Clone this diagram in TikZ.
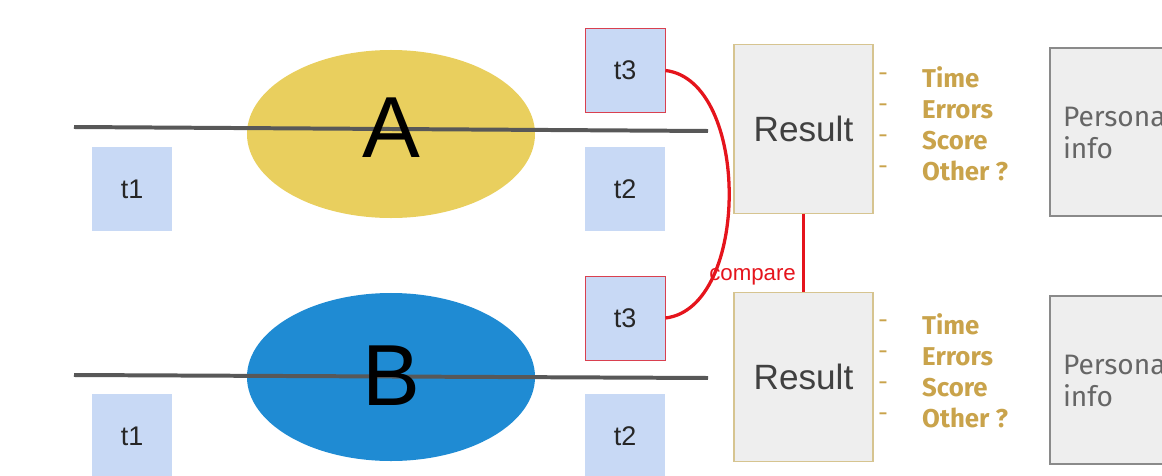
\documentclass[tikz,border=0pt]{standalone}
\usepackage{fontspec}
\setmainfont{Liberation Sans}
\newfontfamily\listfont{Fira Sans}
\usetikzlibrary{shapes.geometric}
\definecolor{tblue}{HTML}{C8D9F5}
\definecolor{ayellow}{HTML}{E9CF5E}
\definecolor{bblue}{HTML}{1F8BD3}
\definecolor{resfill}{HTML}{EEEEEE}
\definecolor{resborder}{HTML}{D6C490}
\definecolor{perborder}{HTML}{8A8A8A}
\definecolor{gold}{HTML}{C9A34B}
\definecolor{cred}{HTML}{E5141C}
\definecolor{tred}{HTML}{D9404F}
\definecolor{lgray}{HTML}{585858}
\begin{document}
\begin{tikzpicture}[x=0.03cm,y=-0.03cm,
  tbox/.style={rectangle, fill=tblue, inner sep=0pt, minimum width=2.4cm, minimum height=2.52cm,
    font=\fontsize{23pt}{26pt}\selectfont, text=black!85},
  tthree/.style={tbox, draw=tred, line width=0.8pt},
  resbox/.style={rectangle, fill=resfill, draw=resborder, line width=1pt, inner sep=0pt,
    minimum width=4.17cm, minimum height=5.05cm, font=\fontsize{30pt}{34pt}\selectfont, text=black!75},
  perbox/.style={rectangle, fill=resfill, draw=perborder, line width=1pt, inner xsep=0.39cm,
    minimum width=4.2cm, minimum height=5.04cm, text width=3.42cm, align=left,
    font=\listfont\fontsize{24pt}{27pt}\selectfont, text=black!60},
  blob/.style={ellipse, inner sep=0pt, minimum width=8.64cm, minimum height=5.04cm},
  bigletter/.style={font=\fontsize{74pt}{74pt}\selectfont, text=black, inner sep=0pt},
  track/.style={draw=lgray, line width=3.4pt},
  list/.style={align=left, anchor=west, inner sep=0pt, text=gold,
    font=\listfont\bfseries\fontsize{22pt}{26.35pt}\selectfont},
  dashes/.style={align=left, anchor=west, inner sep=0pt, text=gold,
    font=\listfont\fontsize{21pt}{26.35pt}\selectfont},
  redline/.style={draw=cred, line width=2.8pt},
  lbl/.style={text=cred, font=\fontsize{19pt}{21pt}\selectfont, inner sep=0pt}
]
\useasboundingbox (0,0) rectangle (1162,476);
\clip (0,0) rectangle (1162,476);

% ---- top row (A)
\node[blob, fill=ayellow] (ellA) at (391,134) {};
\coordinate (lA1) at (74,127);
\coordinate (lA2) at (708,131);
\draw[track] (lA1) -- (lA2);
\node[bigletter] (letA) at (391,128) {A};
\node[tbox] (t1a) at (132,189) {t1};
\node[tbox] (t2a) at (625,189) {t2};
\node[tthree] (t3a) at (625,70.5) {t3};
\node[resbox] (resA) at (803.5,129) {Result};
\node[dashes] (dA) at (878,123.5) {-\\-\\-\\-};
\node[list] (listA) at (922,123.5) {Time\\Errors\\Score\\Other ?};
\node[perbox] (perA) at (1120,132) {Personal\\info};

% ---- bottom row (B)
\node[blob, fill=bblue] (ellB) at (391,377) {};
\coordinate (lB1) at (74,375);
\coordinate (lB2) at (708,378);
\draw[track] (lB1) -- (lB2);
\node[bigletter] (letB) at (391,376) {B};
\node[tbox] (t1b) at (132,436) {t1};
\node[tbox] (t2b) at (625,436) {t2};
\node[tthree] (t3b) at (625,318) {t3};
\node[resbox] (resB) at (803.5,377) {Result};
\node[dashes] (dB) at (878,370.5) {-\\-\\-\\-};
\node[list] (listB) at (922,370.5) {Time\\Errors\\Score\\Other ?};
\node[perbox] (perB) at (1120,380) {Personal\\info};

% ---- connectors
\draw[redline] (t3a.east) .. controls +(85,10) and +(85,-10) .. (t3b.east);
\draw[redline] (resA.south) -- node[lbl, pos=0.8, anchor=east, xshift=-0.18cm] (cmp) {compare} (resB.north);
\end{tikzpicture}
\end{document}
